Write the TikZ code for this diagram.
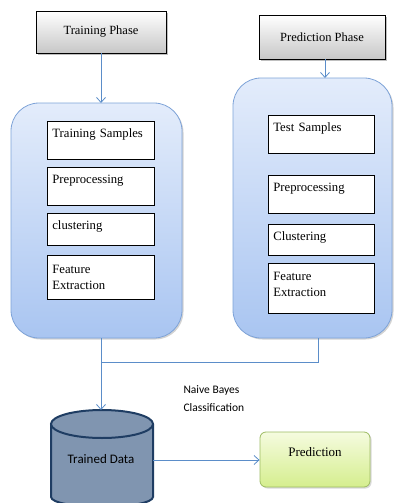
\documentclass[tikz,border=0pt]{standalone}
\usepackage{fontspec}
\setmainfont{Liberation Serif}
\newfontfamily\calib{Carlito}
\usetikzlibrary{shapes.geometric,shadows,arrows.meta}
\definecolor{lineblue}{HTML}{5B8DC9}
\definecolor{panelborder}{HTML}{7EA3D8}
\definecolor{paneltop}{HTML}{E3ECFB}
\definecolor{panelbot}{HTML}{A9C5F1}
\definecolor{cylfill}{HTML}{8095B0}
\definecolor{cylborder}{HTML}{1F3D63}
\definecolor{predtop}{HTML}{F5FBDF}
\definecolor{predbot}{HTML}{D5EE8E}
\definecolor{predborder}{HTML}{9DBB62}
\tikzset{
  phasebox/.style={draw=black, line width=0.8pt, top color=white, bottom color=black!22,
    drop shadow={shadow xshift=2pt, shadow yshift=-2pt, opacity=0.5}, font=\fontsize{12.5}{14}\selectfont},
  panel/.style={draw=panelborder, line width=0.8pt, rounded corners=28pt, top color=paneltop, bottom color=panelbot,
    drop shadow={shadow xshift=1.5pt, shadow yshift=-1.5pt, opacity=0.35}},
  stepbox/.style={draw=black, line width=0.7pt, fill=white, font=\fontsize{12.7}{16}\selectfont,
    anchor=north west, align=left, inner xsep=5pt, inner ysep=4pt},
  conn/.style={draw=lineblue, line width=0.8pt},
  arr/.style={conn, -{Straight Barb[length=5pt,width=9pt]}},
}
\begin{document}
\begin{tikzpicture}[x=1pt,y=-1pt]
\useasboundingbox (0,0) rectangle (394,503);
% phase boxes
\node[phasebox, minimum width=130pt, minimum height=42pt] (tp) at (101,32) {Training Phase};
\node[phasebox, minimum width=126pt, minimum height=44pt] (pp) at (322,37) {Prediction Phase};
% panels
\path[panel] (11,103) rectangle (182,338);
\coordinate (ltop) at (101,103);
\coordinate (lbot) at (101,338);
\path[panel] (233,78) rectangle (392,338);
\coordinate (rtop) at (325,78);
\coordinate (rbot) at (318,338);
% left steps
\node[stepbox, minimum width=107pt, minimum height=38pt, text width=97pt] (ts) at (47,121) {Training Samples\\[-6pt]\strut};
\node[stepbox, minimum width=107pt, minimum height=38pt, text width=97pt] (lp) at (47,167) {Preprocessing\\[-6pt]\strut};
\node[stepbox, minimum width=107pt, minimum height=32pt, text width=97pt] (lc) at (47,213) {clustering\\[-12pt]\strut};
\node[stepbox, minimum width=107pt, minimum height=44pt, text width=97pt] (lf) at (47,255) {Feature\\Extraction};
% right steps
\node[stepbox, minimum width=106pt, minimum height=38pt, text width=96pt] (rs) at (268,115) {Test Samples\\[-6pt]\strut};
\node[stepbox, minimum width=106pt, minimum height=38pt, text width=96pt] (rp) at (268,175) {Preprocessing\\[-6pt]\strut};
\node[stepbox, minimum width=106pt, minimum height=31pt, text width=96pt] (rc) at (268,224) {Clustering\\[-13pt]\strut};
\node[stepbox, minimum width=106pt, minimum height=50pt, text width=96pt] (rf) at (268,263) {Feature\\Extraction\\[-12pt]\strut};
% arrows from phases
\draw[arr] (tp.south) -- (ltop);
\draw[arr] (pp.south -| rtop) -- (rtop);
% cylinder
\fill[cylfill] (51,424) -- (51,497) arc[start angle=180,end angle=360,x radius=51pt,y radius=10pt] -- (153,424) -- cycle;
\draw[cylborder, line width=2pt] (51,424) -- (51,497) arc[start angle=180,end angle=360,x radius=51pt,y radius=10pt] -- (153,424);
\draw[cylborder, line width=2pt, fill=cylfill] (102,424) ellipse[x radius=51pt, y radius=14pt];
\node[font=\calib\fontsize{13}{15}\selectfont] (td) at (101,459) {Trained Data};
\coordinate (cyltop) at (101,410);
\coordinate (cylright) at (153,460);
% join
\coordinate (jl) at (101,362);
\coordinate (jr) at (318,362);
\draw[conn] (rbot) -- (jr) -- (jl);
\draw[arr] (lbot) -- (cyltop);
\node[font=\calib\fontsize{11.5}{18}\selectfont, align=left, anchor=north west] (nb) at (180,382) {Naive Bayes\\Classification};
% prediction
\node[draw=predborder, line width=0.8pt, rounded corners=6pt, top color=predtop, bottom color=predbot,
  minimum width=110pt, minimum height=55pt,
  drop shadow={shadow xshift=1.5pt, shadow yshift=-1.5pt, opacity=0.3},
  font=\fontsize{13}{15}\selectfont, text depth=16pt] (pred) at (315,459.5) {Prediction};
\draw[arr] (cylright) -- (pred.west |- cylright);
\end{tikzpicture}
\end{document}
